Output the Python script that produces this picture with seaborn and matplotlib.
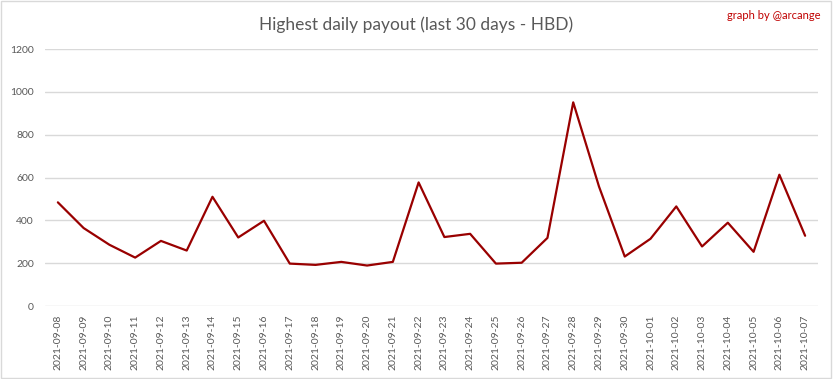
import pandas as pd
import seaborn as sns
import matplotlib.pyplot as plt
from matplotlib.patches import Rectangle

dates = ['2021-09-08', '2021-09-09', '2021-09-10', '2021-09-11', '2021-09-12',
         '2021-09-13', '2021-09-14', '2021-09-15', '2021-09-16', '2021-09-17',
         '2021-09-18', '2021-09-19', '2021-09-20', '2021-09-21', '2021-09-22',
         '2021-09-23', '2021-09-24', '2021-09-25', '2021-09-26', '2021-09-27',
         '2021-09-28', '2021-09-29', '2021-09-30', '2021-10-01', '2021-10-02',
         '2021-10-03', '2021-10-04', '2021-10-05', '2021-10-06', '2021-10-07']
payout = [484, 364, 286, 226, 304, 259, 510, 320, 398, 198,
          192, 206, 189, 206, 577, 322, 337, 198, 202, 318,
          951, 558, 231, 314, 465, 278, 389, 253, 613, 328]
y_ticks = [0, 200, 400, 600, 800, 1000, 1200]

df = pd.DataFrame({'date': dates, 'payout': payout})

sns.set_style('white')
plt.rcParams['font.family'] = ['Lato', 'DejaVu Sans']

fig = plt.figure(figsize=(8.33, 3.79), dpi=100)
ax = fig.add_axes([0.054, 0.1926, 0.928, 0.6781])

sns.lineplot(data=df, x='date', y='payout', ax=ax, color='#990000', linewidth=1.6, sort=False)

ax.set_xlim(-0.5, len(dates) - 0.5)
ax.set_ylim(0, 1200)
ax.set_yticks(y_ticks)
ax.set_xticks(range(len(dates)))
ax.set_xticklabels(dates, rotation=90)
ax.tick_params(axis='both', length=0, labelsize=7.5, labelcolor='#595959')
ax.tick_params(axis='x', pad=6)
ax.tick_params(axis='y', pad=8)
ax.grid(axis='y', color='#D9D9D9', linewidth=1)
ax.set_axisbelow(True)
for s in ax.spines.values():
    s.set_visible(False)
ax.set_xlabel('')
ax.set_ylabel('')

fig.text(0.5, 0.935, 'Highest daily payout (last 30 days - HBD)', ha='center', va='center',
         fontsize=12.5, color='#595959')
fig.text(0.985, 0.96, 'graph by @arcange', ha='right', va='center', fontsize=8, color='#C00000')

fig.patches.append(Rectangle((0.001, 0.002), 0.997, 0.995, transform=fig.transFigure,
                             fill=False, edgecolor='#D9D9D9', linewidth=1))

fig.savefig('out.png', dpi=100)
